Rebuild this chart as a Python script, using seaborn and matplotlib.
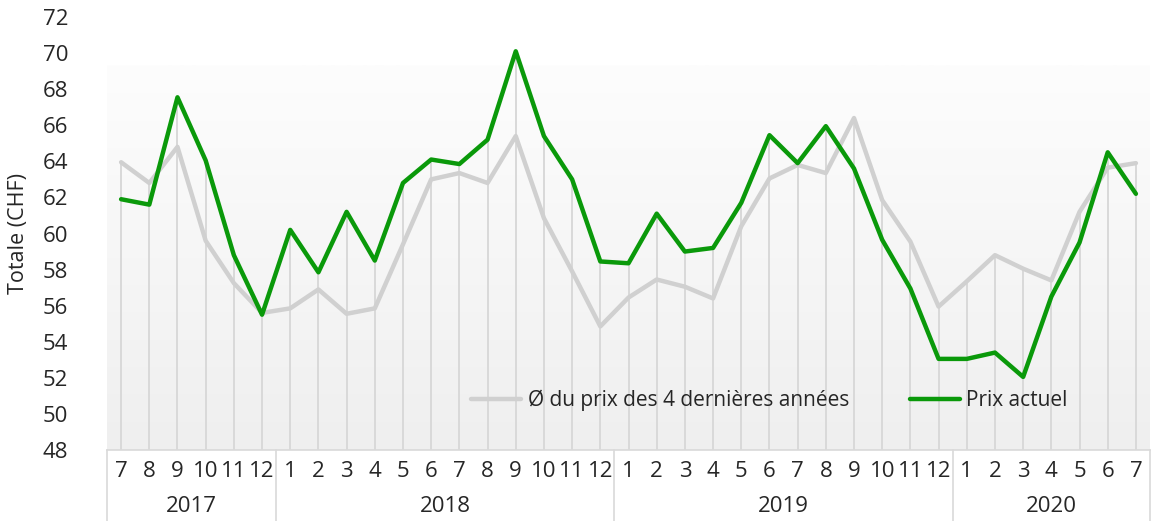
import numpy as np
import pandas as pd
import matplotlib
matplotlib.use("Agg")
import matplotlib.pyplot as plt
import matplotlib.transforms as mtransforms
import seaborn as sns

# Données (07/2017 - 07/2020)
mois = [7, 8, 9, 10, 11, 12,
        1, 2, 3, 4, 5, 6, 7, 8, 9, 10, 11, 12,
        1, 2, 3, 4, 5, 6, 7, 8, 9, 10, 11, 12,
        1, 2, 3, 4, 5, 6, 7]
annees = ["2017", "2018", "2019", "2020"]
nb_mois_annee = [6, 12, 12, 7]

prix_moyen = [63.95, 62.8, 64.8, 59.6, 57.25, 55.6,
              55.85, 56.9, 55.55, 55.85, 59.4, 63.0, 63.35, 62.8, 65.4, 60.85, 57.9, 54.85,
              56.45, 57.45, 57.05, 56.4, 60.4, 63.05, 63.8, 63.35, 66.4, 61.85, 59.55, 55.95,
              57.35, 58.8, 58.05, 57.4, 61.2, 63.65, 63.9]
prix_actuel = [61.9, 61.6, 67.55, 64.05, 58.8, 55.5,
               60.2, 57.85, 61.2, 58.5, 62.8, 64.1, 63.85, 65.2, 70.1, 65.4, 63.0, 58.45,
               58.35, 61.1, 59.0, 59.2, 61.7, 65.45, 63.9, 65.95, 63.6, 59.65, 56.95, 53.05,
               53.05, 53.4, 52.05, 56.5, 59.5, 64.5, 62.2]

label_moyen = "Ø du prix des 4 dernières années"
label_actuel = "Prix actuel"

df = pd.DataFrame({
    "pos": np.arange(len(mois)),
    label_moyen: prix_moyen,
    label_actuel: prix_actuel,
})
df_long = df.melt(id_vars="pos", var_name="serie", value_name="prix")

sns.set_style("white")
plt.rcParams["font.family"] = ["Open Sans", "DejaVu Sans"]
plt.rcParams["text.color"] = "#262626"

fig = plt.figure(figsize=(11.51, 5.21), dpi=100)
ax = fig.add_axes([107 / 1151, 71 / 521, 1043 / 1151, 433 / 521])

ax.set_xlim(-0.5, len(mois) - 0.5)
ax.set_ylim(48, 72)

# fond en dégradé
grad = np.linspace(0, 1, 256).reshape(-1, 1)
cmap = matplotlib.colors.LinearSegmentedColormap.from_list("fond", ["#efefef", "#fdfdfd"])
ax.imshow(grad, aspect="auto", cmap=cmap, origin="lower",
          extent=[-0.5, len(mois) - 0.5, 48, 69.3], zorder=0)

# lignes de projection
hauts = np.maximum(df[label_moyen], df[label_actuel])
ax.vlines(df["pos"], 48, hauts, color="#d9d9d9", lw=1.4, zorder=1)

sns.lineplot(data=df_long, x="pos", y="prix", hue="serie",
             palette={label_moyen: "#d0d0d0", label_actuel: "#0a990a"},
             linewidth=3.2, ax=ax, zorder=3)

# axes
for s in ["top", "right", "left"]:
    ax.spines[s].set_visible(False)
ax.spines["bottom"].set_color("#d9d9d9")
ax.spines["bottom"].set_linewidth(1.2)

ax.set_yticks(np.arange(48, 73, 2))
ax.tick_params(axis="y", length=0, pad=28, labelsize=16)
ax.set_xticks(df["pos"])
ax.set_xticklabels([str(m) for m in mois])
ax.tick_params(axis="x", length=0, pad=8, labelsize=16)
ax.set_xlabel("")
ax.set_ylabel("Totale (CHF)", fontsize=15.5, labelpad=10)

# niveau des années
trans = mtransforms.blended_transform_factory(ax.transData, ax.transAxes)
bords = np.concatenate([[0], np.cumsum(nb_mois_annee)]) - 0.5
for b in bords:
    ax.plot([b, b], [0, -0.165], transform=trans, color="#d9d9d9", lw=1.2, clip_on=False)
for i, an in enumerate(annees):
    ax.text((bords[i] + bords[i + 1]) / 2, -0.13, an, transform=trans,
            ha="center", va="center", fontsize=16)

ax.legend(loc="center", bbox_to_anchor=(0.635, 0.115), ncol=2, frameon=False,
          fontsize=15, handlelength=2.4, handletextpad=0.3, columnspacing=2.9)

fig.savefig("out.png", dpi=100)
